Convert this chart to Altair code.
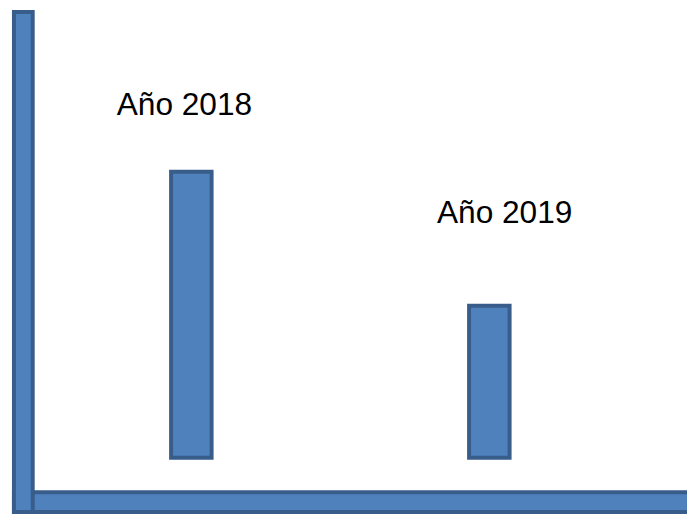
import altair as alt
import pandas as pd

years = ["2018", "2019"]
values = [64, 34]
labels = ["Año 2018", "Año 2019"]

FILL = "#4F81BD"
EDGE = "#385D8A"

df = pd.DataFrame({"year": years, "value": values, "label": labels})
one = pd.DataFrame({"k": [0]})

xs = alt.Scale(type="point", domain=years, range=[185.5, 487], padding=0)
ys = alt.Scale(domain=[0, 100], range=[452, 0])

hbar = alt.Chart(one).mark_rect(fill=FILL, stroke=EDGE, strokeWidth=4).encode(
    x=alt.value(6), x2=alt.value(700), y=alt.value(487), y2=alt.value(507)
)
vbar = alt.Chart(one).mark_rect(fill=FILL, stroke=EDGE, strokeWidth=4).encode(
    x=alt.value(6), x2=alt.value(25), y=alt.value(1), y2=alt.value(507)
)

bars = alt.Chart(df).mark_bar(fill=FILL, stroke=EDGE, strokeWidth=4, size=41).encode(
    x=alt.X("year:N", scale=xs, axis=None),
    y=alt.Y("value:Q", scale=ys, axis=None),
)

def label(year, dx, dy):
    return alt.Chart(df).transform_filter(alt.datum.year == year).mark_text(
        font="Liberation Sans", fontSize=32, color="black",
        align="center", baseline="alphabetic", dx=dx, dy=dy
    ).encode(
        x=alt.X("year:N", scale=xs, axis=None),
        y=alt.Y("value:Q", scale=ys, axis=None),
        text="label:N",
    )

chart = alt.layer(
    hbar, vbar, bars, label("2018", -7, -57), label("2019", 15.5, -84)
).properties(
    width=687, height=511, padding=0, autosize=alt.AutoSizeParams(type="none")
).configure_view(stroke=None)

chart.save("out.html", embed_options={"renderer": "svg", "actions": False})
